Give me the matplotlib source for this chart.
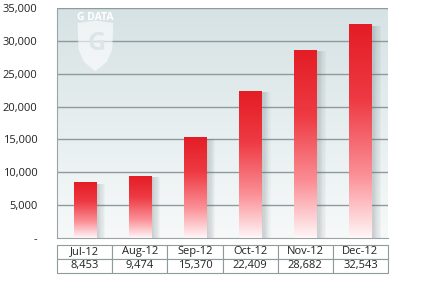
import numpy as np
import matplotlib
matplotlib.use("Agg")
import matplotlib.pyplot as plt
from matplotlib.colors import LinearSegmentedColormap
from matplotlib.patches import Rectangle, Polygon

months = ["Jul-12", "Aug-12", "Sep-12", "Oct-12", "Nov-12", "Dec-12"]
counts = [8453, 9474, 15370, 22409, 28682, 32543]
yticks = [0, 5000, 10000, 15000, 20000, 25000, 30000, 35000]

plt.rcParams["font.family"] = ["Open Sans", "DejaVu Sans"]

fig = plt.figure(figsize=(4.42, 2.89), dpi=100)
ax = fig.add_axes([57 / 442, 1 - 238 / 289, 331 / 442, 230 / 289])

n = len(months)
x = np.arange(n)

# background gradient
bg = LinearSegmentedColormap.from_list("bg", ["#f7f9f9", "#e6eeef", "#d6e2e4"])
grad = np.linspace(0, 1, 256).reshape(-1, 1)
ax.imshow(grad, cmap=bg, aspect="auto", origin="lower",
          extent=[-0.5, n - 0.5, 0, 35000], zorder=0)

for t in yticks[1:]:
    ax.axhline(t, color="#8e9a9c", linewidth=1.0, zorder=1)

# bars with red-to-white gradient and a soft shadow on the right
red = LinearSegmentedColormap.from_list(
    "red", [(0, "#fff6f7"), (0.3, "#fb8e95"), (0.65, "#ee3a43"), (1, "#e41c25")])
w = 0.4
for xi, v in zip(x, counts):
    for k in range(7):
        sh = Rectangle((xi - w / 2 + 0.02, 0), w + 0.02 + k * 0.022, v - 250,
                       facecolor="#5f6b70", alpha=0.045, edgecolor="none", zorder=2)
        ax.add_patch(sh)
    rect = Rectangle((xi - w / 2, 0), w, v, facecolor="none", edgecolor="none", zorder=3)
    ax.add_patch(rect)
    im = ax.imshow(np.linspace(0, 1, 256).reshape(-1, 1), cmap=red, aspect="auto",
                   origin="lower", extent=[xi - w / 2, xi + w / 2, 0, v], zorder=3)
    im.set_clip_path(rect)

ax.set_xlim(-0.5, n - 0.5)
ax.set_ylim(0, 35000)

ax.set_xticks([])
ax.set_yticks(yticks)
ax.set_yticklabels(["-"] + [f"{t:,}" for t in yticks[1:]], fontsize=8, color="#222222")
ax.tick_params(axis="y", length=0, pad=14)
for s in ["top", "right"]:
    ax.spines[s].set_visible(False)
ax.spines["left"].set_color("#9aa4a6")
ax.spines["bottom"].set_color("#9aa4a6")

# watermark logo
shield = Polygon([[0.062, 0.935], [0.116, 0.945], [0.170, 0.935], [0.167, 0.82],
                  [0.15, 0.765], [0.116, 0.725], [0.082, 0.765], [0.065, 0.82]],
                 closed=True, transform=ax.transAxes, facecolor="white",
                 alpha=0.6, edgecolor="none", zorder=2)
ax.add_patch(shield)
ax.text(0.116, 0.957, "G DATA", transform=ax.transAxes, ha="center", va="center",
        fontsize=7.5, fontweight="bold", color="white", zorder=2)
ax.text(0.12, 0.845, "G", transform=ax.transAxes, ha="center", va="center",
        fontsize=18, fontweight="bold", color="#dde5e6", zorder=2)

# data table below the axis
tbl = ax.table(cellText=[months, [f"{c:,}" for c in counts]],
               cellLoc="center", bbox=[0, -0.152, 1, 0.122])
tbl.auto_set_font_size(False)
tbl.set_fontsize(8)
for cell in tbl.get_celld().values():
    cell.set_edgecolor("#8e9a9c")
    cell.set_linewidth(0.8)
    cell.get_text().set_color("#222222")

fig.savefig("out.png", dpi=100)
